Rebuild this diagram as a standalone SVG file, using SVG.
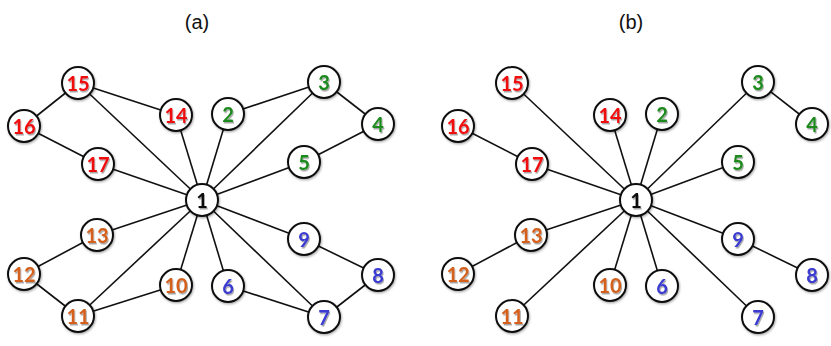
<svg xmlns="http://www.w3.org/2000/svg" width="831" height="346" viewBox="0 0 831 346">
<defs>
<filter id="sh" x="-30%" y="-30%" width="160%" height="160%">
<feDropShadow dx="1" dy="1.5" stdDeviation="0.6" flood-color="#000" flood-opacity="0.35"/>
</filter>
<filter id="csh" x="-30%" y="-30%" width="160%" height="160%">
<feDropShadow dx="0.8" dy="1.2" stdDeviation="0.8" flood-color="#000" flood-opacity="0.35"/>
</filter>
</defs>
<style>
.title{font-family:"Liberation Sans",Arial,sans-serif;font-size:20px;fill:#111;text-anchor:middle}
circle{fill:#fff;stroke:#111;stroke-width:2;filter:url(#csh)}
.lab{font-family:Lato,"Liberation Sans",sans-serif;font-weight:bold;font-size:20px;text-anchor:middle;dominant-baseline:central;filter:url(#sh)}
.r{fill:#f01010}.g{fill:#1e8a1e}.o{fill:#d4611e}.b{fill:#3a3ad0}.k{fill:#111}
.e line{stroke:#111;stroke-width:1.6}
</style>
<text class="title" x="197" y="29">(a)</text>
<text class="title" x="631" y="29">(b)</text>
<g id="edges-a" class="e">
<line x1="78" y1="83" x2="24" y2="126"/>
<line x1="78" y1="83" x2="176" y2="115"/>
<line x1="78" y1="83" x2="202" y2="200"/>
<line x1="24" y1="126" x2="98" y2="164"/>
<line x1="98" y1="164" x2="202" y2="200"/>
<line x1="176" y1="115" x2="202" y2="200"/>
<line x1="228" y1="114" x2="202" y2="200"/>
<line x1="228" y1="114" x2="324" y2="82"/>
<line x1="324" y1="82" x2="202" y2="200"/>
<line x1="324" y1="82" x2="378" y2="124"/>
<line x1="378" y1="124" x2="304" y2="162"/>
<line x1="304" y1="162" x2="202" y2="200"/>
<line x1="97" y1="235" x2="202" y2="200"/>
<line x1="97" y1="235" x2="24" y2="274"/>
<line x1="24" y1="274" x2="78" y2="316"/>
<line x1="78" y1="316" x2="202" y2="200"/>
<line x1="78" y1="316" x2="176" y2="285"/>
<line x1="176" y1="285" x2="202" y2="200"/>
<line x1="228" y1="286" x2="202" y2="200"/>
<line x1="228" y1="286" x2="324" y2="317"/>
<line x1="324" y1="317" x2="202" y2="200"/>
<line x1="324" y1="317" x2="378" y2="275"/>
<line x1="378" y1="275" x2="304" y2="239"/>
<line x1="304" y1="239" x2="202" y2="200"/>
</g>
<g id="edges-b" class="e">
<line x1="512" y1="83" x2="636" y2="200"/>
<line x1="458" y1="126" x2="532" y2="164"/>
<line x1="532" y1="164" x2="636" y2="200"/>
<line x1="610" y1="115" x2="636" y2="200"/>
<line x1="662" y1="114" x2="636" y2="200"/>
<line x1="758" y1="82" x2="636" y2="200"/>
<line x1="758" y1="82" x2="812" y2="124"/>
<line x1="738" y1="162" x2="636" y2="200"/>
<line x1="531" y1="235" x2="636" y2="200"/>
<line x1="531" y1="235" x2="458" y2="274"/>
<line x1="512" y1="316" x2="636" y2="200"/>
<line x1="610" y1="285" x2="636" y2="200"/>
<line x1="662" y1="286" x2="636" y2="200"/>
<line x1="758" y1="317" x2="636" y2="200"/>
<line x1="738" y1="239" x2="636" y2="200"/>
<line x1="738" y1="239" x2="812" y2="275"/>
</g>
<g id="a1"><circle cx="202" cy="200" r="16"/><text class="lab k" x="202" y="200">1</text></g>
<g id="a2"><circle cx="228" cy="114" r="16"/><text class="lab g" x="228" y="114">2</text></g>
<g id="a3"><circle cx="324" cy="82" r="16"/><text class="lab g" x="324" y="82">3</text></g>
<g id="a4"><circle cx="378" cy="124" r="16"/><text class="lab g" x="378" y="124">4</text></g>
<g id="a5"><circle cx="304" cy="162" r="16"/><text class="lab g" x="304" y="162">5</text></g>
<g id="a6"><circle cx="228" cy="286" r="16"/><text class="lab b" x="228" y="286">6</text></g>
<g id="a7"><circle cx="324" cy="317" r="16"/><text class="lab b" x="324" y="317">7</text></g>
<g id="a8"><circle cx="378" cy="275" r="16"/><text class="lab b" x="378" y="275">8</text></g>
<g id="a9"><circle cx="304" cy="239" r="16"/><text class="lab b" x="304" y="239">9</text></g>
<g id="a10"><circle cx="176" cy="285" r="16"/><text class="lab o" x="176" y="285">10</text></g>
<g id="a11"><circle cx="78" cy="316" r="16"/><text class="lab o" x="78" y="316">11</text></g>
<g id="a12"><circle cx="24" cy="274" r="16"/><text class="lab o" x="24" y="274">12</text></g>
<g id="a13"><circle cx="97" cy="235" r="16"/><text class="lab o" x="97" y="235">13</text></g>
<g id="a14"><circle cx="176" cy="115" r="16"/><text class="lab r" x="176" y="115">14</text></g>
<g id="a15"><circle cx="78" cy="83" r="16"/><text class="lab r" x="78" y="83">15</text></g>
<g id="a16"><circle cx="24" cy="126" r="16"/><text class="lab r" x="24" y="126">16</text></g>
<g id="a17"><circle cx="98" cy="164" r="16"/><text class="lab r" x="98" y="164">17</text></g>
<g id="b1"><circle cx="636" cy="200" r="16"/><text class="lab k" x="636" y="200">1</text></g>
<g id="b2"><circle cx="662" cy="114" r="16"/><text class="lab g" x="662" y="114">2</text></g>
<g id="b3"><circle cx="758" cy="82" r="16"/><text class="lab g" x="758" y="82">3</text></g>
<g id="b4"><circle cx="812" cy="124" r="16"/><text class="lab g" x="812" y="124">4</text></g>
<g id="b5"><circle cx="738" cy="162" r="16"/><text class="lab g" x="738" y="162">5</text></g>
<g id="b6"><circle cx="662" cy="286" r="16"/><text class="lab b" x="662" y="286">6</text></g>
<g id="b7"><circle cx="758" cy="317" r="16"/><text class="lab b" x="758" y="317">7</text></g>
<g id="b8"><circle cx="812" cy="275" r="16"/><text class="lab b" x="812" y="275">8</text></g>
<g id="b9"><circle cx="738" cy="239" r="16"/><text class="lab b" x="738" y="239">9</text></g>
<g id="b10"><circle cx="610" cy="285" r="16"/><text class="lab o" x="610" y="285">10</text></g>
<g id="b11"><circle cx="512" cy="316" r="16"/><text class="lab o" x="512" y="316">11</text></g>
<g id="b12"><circle cx="458" cy="274" r="16"/><text class="lab o" x="458" y="274">12</text></g>
<g id="b13"><circle cx="531" cy="235" r="16"/><text class="lab o" x="531" y="235">13</text></g>
<g id="b14"><circle cx="610" cy="115" r="16"/><text class="lab r" x="610" y="115">14</text></g>
<g id="b15"><circle cx="512" cy="83" r="16"/><text class="lab r" x="512" y="83">15</text></g>
<g id="b16"><circle cx="458" cy="126" r="16"/><text class="lab r" x="458" y="126">16</text></g>
<g id="b17"><circle cx="532" cy="164" r="16"/><text class="lab r" x="532" y="164">17</text></g>
</svg>
